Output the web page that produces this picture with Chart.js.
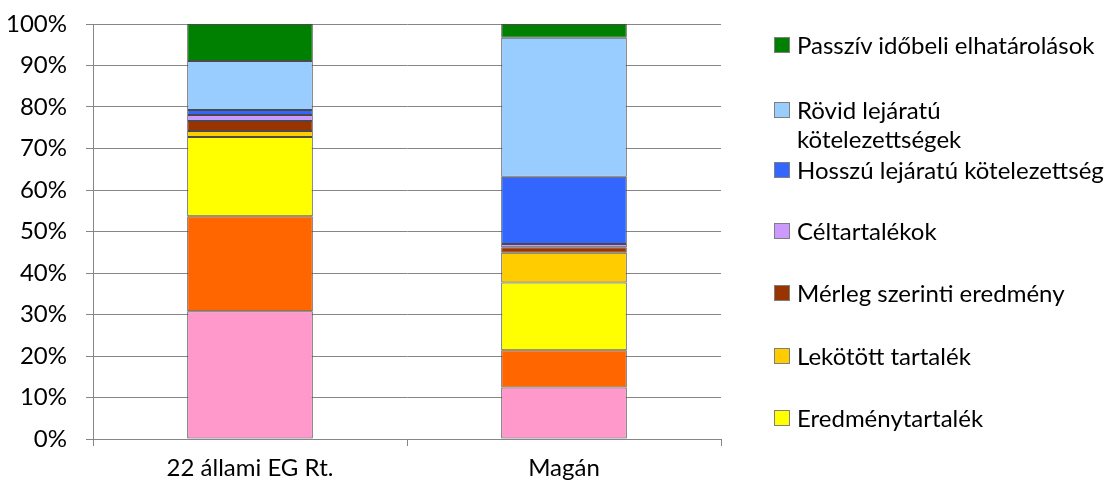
<!DOCTYPE html>
<html>
<head>
<meta charset="utf-8">
<script src="https://cdn.jsdelivr.net/npm/chart.js@4/dist/chart.umd.min.js"></script>
<style>
  body { margin: 0; background: #fff; }
  #wrap { position: relative; width: 1116px; height: 486px; }
  #legenda { position: absolute; left: 0; top: 0; font-family: Lato, 'Open Sans', sans-serif; font-size: 24px; color: #000; }
  .tetel { position: absolute; left: 774px; width: 340px; }
  .doboz { position: absolute; left: 0; width: 14px; height: 14px; border: 1px solid #7f7f7f; }
  .szoveg { position: absolute; left: 23px; line-height: 29px; white-space: nowrap; }
</style>
</head>
<body>
<div id="wrap">
  <canvas id="grafikon" width="1116" height="486"></canvas>
  <div id="legenda"></div>
</div>
<script>
const kategoriak = ['22 állami EG Rt.', 'Magán']

// alulról felfelé, ahogy a halmozott oszlopban
const jegyzettToke = [30.8, 12.4]
const toketartalek = [22.9, 9.0]
const eredmenytartalek = [19.1, 16.3]
const lekotottTartalek = [1.4, 7.2]
const merlegEredmeny = [2.4, 1.3]
const celtartalekok = [1.5, 0.8]
const hosszuKotelezettseg = [1.2, 16.2]
const rovidKotelezettseg = [11.8, 33.5]
const passzivElhatarolas = [8.9, 3.3]

const yTickek = ['0%', '10%', '20%', '30%', '40%', '50%', '60%', '70%', '80%', '90%', '100%']

const sorozatok = [
  { nev: 'Jegyzett tőke', adat: jegyzettToke, szin: '#FF99CC', legendaban: false },
  { nev: 'Tőketartalék', adat: toketartalek, szin: '#FF6600', legendaban: false },
  { nev: 'Eredménytartalék', adat: eredmenytartalek, szin: '#FFFF00', legendaban: true },
  { nev: 'Lekötött tartalék', adat: lekotottTartalek, szin: '#FFCC00', legendaban: true },
  { nev: 'Mérleg szerinti eredmény', adat: merlegEredmeny, szin: '#993300', legendaban: true },
  { nev: 'Céltartalékok', adat: celtartalekok, szin: '#CC99FF', legendaban: true },
  { nev: 'Hosszú lejáratú kötelezettség', adat: hosszuKotelezettseg, szin: '#3366FF', legendaban: true },
  { nev: 'Rövid lejáratú kötelezettségek', adat: rovidKotelezettseg, szin: '#99CCFF', legendaban: true },
  { nev: 'Passzív időbeli elhatárolások', adat: passzivElhatarolas, szin: '#008000', legendaban: true }
]

const betu = { family: "Lato, 'Open Sans', sans-serif", size: 24 }
const racsSzin = '#868686'

const grafikon = new Chart(document.querySelector('#grafikon'), {
  type: 'bar',
  data: {
    labels: kategoriak,
    datasets: sorozatok.map(s => ({
      label: s.nev,
      data: s.adat,
      backgroundColor: s.szin,
      borderColor: '#4a4a4a',
      borderWidth: 1,
      borderSkipped: false,
      categoryPercentage: 0.4,
      barPercentage: 1
    }))
  },
  options: {
    responsive: false,
    animation: false,
    layout: { padding: { top: 24, right: 395, left: 0, bottom: 0 } },
    plugins: {
      legend: { display: false },
      tooltip: { enabled: false }
    },
    scales: {
      x: {
        stacked: true,
        afterFit: scale => { scale.height = 47; scale.paddingLeft = 0; scale.paddingRight = 0 },
        grid: { offset: true, drawOnChartArea: false, tickLength: 7, color: racsSzin },
        border: { color: racsSzin },
        ticks: { font: betu, color: '#000', padding: 8, maxRotation: 0 }
      },
      y: {
        stacked: true,
        min: 0,
        max: 100,
        afterFit: scale => { scale.width = 93; scale.paddingTop = 0; scale.paddingBottom = 0 },
        grid: { color: racsSzin, tickLength: 7 },
        border: { color: racsSzin },
        ticks: {
          stepSize: 10,
          font: betu,
          color: '#000',
          padding: 19,
          callback: (v, i) => yTickek[i]
        }
      }
    }
  }
})

// jelmagyarázat: fentről lefelé, fordított sorrendben
const legendaY = [45, 110, 170, 231, 293, 356, 418]
const legendaSzoveg = {
  'Rövid lejáratú kötelezettségek': 'Rövid lejáratú<br>kötelezettségek'
}
const legenda = document.querySelector('#legenda')
sorozatok.filter(s => s.legendaban).reverse().forEach((s, i) => {
  const tetel = document.createElement('div')
  tetel.className = 'tetel'
  tetel.style.top = legendaY[i] + 'px'
  tetel.innerHTML = '<div class="doboz" style="top:-8px;background:' + s.szin + '"></div>' +
    '<div class="szoveg" style="top:-15px">' + (legendaSzoveg[s.nev] || s.nev) + '</div>'
  legenda.appendChild(tetel)
})
</script>
</body>
</html>
